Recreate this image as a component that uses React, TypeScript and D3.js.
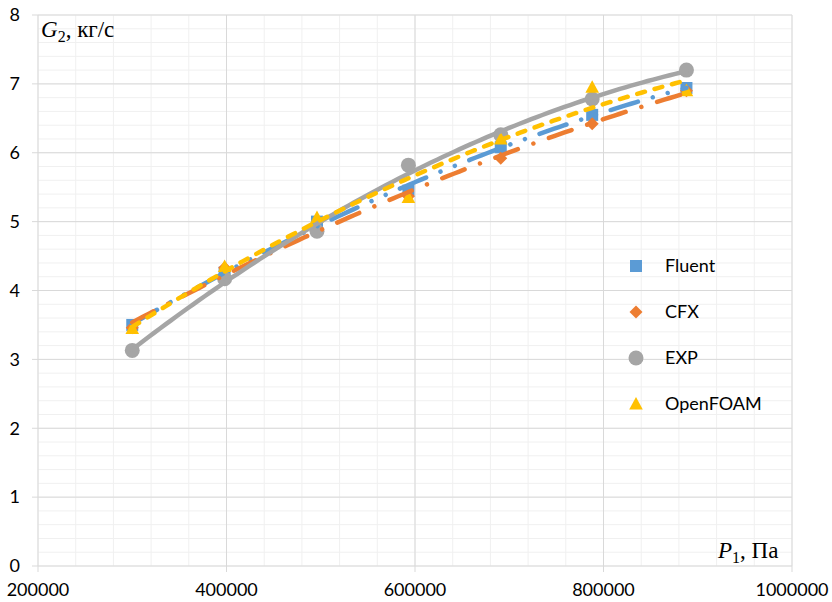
import React from "react";
import * as d3 from "d3";

const pressures = [300000, 398000, 496000, 593000, 691000, 788000, 888000];
const fluent = [3.5, 4.26, 5.0, 5.45, 6.08, 6.55, 6.94];
const cfx = [3.46, 4.33, 4.9, 5.37, 5.92, 6.42, 6.9];
const exp = [3.13, 4.17, 4.86, 5.82, 6.26, 6.78, 7.2];
const openfoam = [3.45, 4.35, 5.06, 5.35, 6.2, 6.95, 6.9];
const seriesNames = ["Fluent", "CFX", "EXP", "OpenFOAM"];
const xTicks = [200000, 400000, 600000, 800000, 1000000];
const yTicks = [0, 1, 2, 3, 4, 5, 6, 7, 8];

const W = 832;
const H = 602;

const colors = ["#5B9BD5", "#ED7D31", "#A5A5A5", "#FFC000"];
const dashes = [
  "28.5,15.5,0.01,15.5,0.01,15.5",
  "24,16.5,0.01,16.5",
  null,
  "8,10",
];
const allSeries = [fluent, cfx, exp, openfoam];

function quadFit(xs: number[], ys: number[]) {
  const mx = d3.mean(xs)!;
  const sx = 100000;
  const t = xs.map((v) => (v - mx) / sx);
  let s0 = t.length, s1 = 0, s2 = 0, s3 = 0, s4 = 0, b0 = 0, b1 = 0, b2 = 0;
  t.forEach((u, i) => {
    s1 += u; s2 += u * u; s3 += u * u * u; s4 += u * u * u * u;
    b0 += ys[i]; b1 += u * ys[i]; b2 += u * u * ys[i];
  });
  // solve 3x3
  const A = [
    [s0, s1, s2, b0],
    [s1, s2, s3, b1],
    [s2, s3, s4, b2],
  ];
  for (let i = 0; i < 3; i++) {
    for (let j = i + 1; j < 3; j++) {
      const f = A[j][i] / A[i][i];
      for (let k = i; k < 4; k++) A[j][k] -= f * A[i][k];
    }
  }
  const c = [0, 0, 0];
  for (let i = 2; i >= 0; i--) {
    let s = A[i][3];
    for (let k = i + 1; k < 3; k++) s -= A[i][k] * c[k];
    c[i] = s / A[i][i];
  }
  return (x: number) => {
    const u = (x - mx) / sx;
    return c[0] + c[1] * u + c[2] * u * u;
  };
}

function Marker({ kind, cx, cy, color }: { kind: number; cx: number; cy: number; color: string }) {
  if (kind === 0) return <rect x={cx - 6} y={cy - 6} width={12} height={12} fill={color} />;
  if (kind === 1)
    return <path d={`M${cx},${cy - 6.5}L${cx + 6.5},${cy}L${cx},${cy + 6.5}L${cx - 6.5},${cy}Z`} fill={color} />;
  if (kind === 2) return <circle cx={cx} cy={cy} r={7.5} fill={color} />;
  return <path d={`M${cx},${cy - 7}L${cx + 6.8},${cy + 5.5}L${cx - 6.8},${cy + 5.5}Z`} fill={color} />;
}

export default function App() {
  const x = d3.scaleLinear().domain([200000, 1000000]).range([38, 792]);
  const y = d3.scaleLinear().domain([0, 8]).range([566, 15]);
  const minorX = d3.range(200000, 1000001, 40000);
  const minorY = d3.range(0, 8.001, 0.2);
  const font = "Lato, 'Open Sans', sans-serif";
  const serif = "'Liberation Serif', 'DejaVu Serif', serif";

  const xmin = d3.min(pressures)!;
  const xmax = d3.max(pressures)!;
  const samples = d3.range(0, 101).map((i) => xmin + ((xmax - xmin) * i) / 100);
  const line = d3.line<[number, number]>().x((d) => x(d[0])).y((d) => y(d[1])).curve(d3.curveLinear);

  return (
    <svg width={W} height={H} style={{ position: "fixed", left: 0, top: 0, background: "#fff" }}>
      <rect width={W} height={H} fill="#fff" />
      {minorX.map((v) => (
        <line key={"mx" + v} x1={x(v)} x2={x(v)} y1={y(0)} y2={y(8)} stroke="#f0f0f0" strokeWidth={1} />
      ))}
      {minorY.map((v) => (
        <line key={"my" + v} x1={x(200000)} x2={x(1000000)} y1={y(v)} y2={y(v)} stroke="#f0f0f0" strokeWidth={1} />
      ))}
      {xTicks.map((v) => (
        <line key={"Mx" + v} x1={x(v)} x2={x(v)} y1={y(0) + 6} y2={y(8)} stroke="#d9d9d9" strokeWidth={1} />
      ))}
      {yTicks.map((v) => (
        <line key={"My" + v} x1={x(200000) - 6} x2={x(1000000)} y1={y(v)} y2={y(v)} stroke="#d9d9d9" strokeWidth={1} />
      ))}
      {yTicks.map((v) => (
        <text key={"yl" + v} x={20} y={y(v)} dy="0.35em" textAnchor="end" fontFamily={font} fontSize={18} fill="#000">
          {v}
        </text>
      ))}
      {xTicks.map((v) => (
        <text key={"xl" + v} x={x(v)} y={590} dy="0.35em" textAnchor="middle" fontFamily={font} fontSize={18} fill="#000">
          {v}
        </text>
      ))}

      {allSeries.map((vals, si) =>
        vals.map((v, i) => <Marker key={si + "-" + i} kind={si} cx={x(pressures[i])} cy={y(v)} color={colors[si]} />)
      )}

      {allSeries.map((vals, si) => {
        const f = quadFit(pressures, vals);
        const pts = samples.map((s) => [s, f(s)] as [number, number]);
        return (
          <path
            key={"t" + si}
            d={line(pts)!}
            fill="none"
            stroke={colors[si]}
            strokeWidth={4.5}
            strokeLinecap="round"
            strokeDasharray={dashes[si] ?? undefined}
          />
        );
      })}

      {seriesNames.map((n, si) => {
        const cy = 266 + si * 46;
        return (
          <g key={n}>
            <Marker kind={si} cx={636} cy={cy} color={colors[si]} />
            <text x={665} y={cy} dy="0.35em" fontFamily={font} fontSize={18} fill="#000">
              {n}
            </text>
          </g>
        );
      })}

      <text x={41} y={37} fontFamily={serif} fontSize={23} fill="#000">
        <tspan fontStyle="italic">G</tspan>
        <tspan fontSize={16} dy={5}>2</tspan>
        <tspan dy={-5}>, кг/с</tspan>
      </text>
      <text x={718} y={558} fontFamily={serif} fontSize={23} fill="#000">
        <tspan fontStyle="italic">P</tspan>
        <tspan fontSize={16} dy={5}>1</tspan>
        <tspan dy={-5}>, Па</tspan>
      </text>
    </svg>
  );
}
